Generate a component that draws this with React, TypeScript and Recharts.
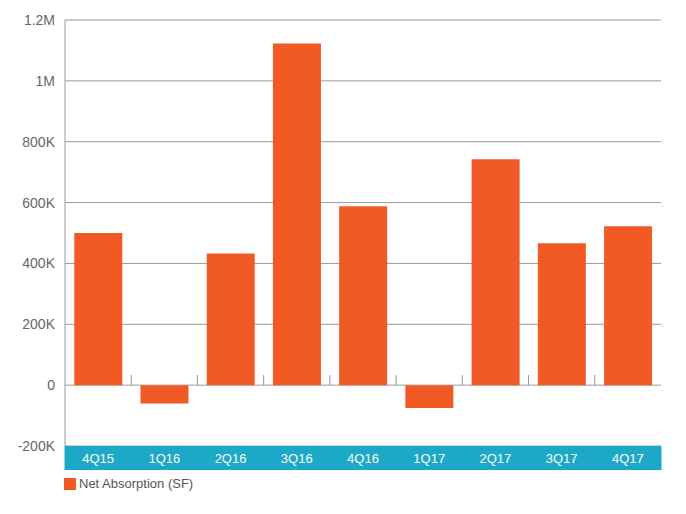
import React from 'react';
import { BarChart, Bar, XAxis, YAxis, CartesianGrid, ReferenceLine, Legend } from 'recharts';

const categories = ['4Q15', '1Q16', '2Q16', '3Q16', '4Q16', '1Q17', '2Q17', '3Q17', '4Q17'];
const netAbsorption = [500000, -60000, 433000, 1123000, 588000, -75000, 742000, 466000, 522000];
const yTicks = [-200000, 0, 200000, 400000, 600000, 800000, 1000000, 1200000];

const data = categories.map((c, i) => ({ cat: c, value: netAbsorption[i] }));

const BAR = '#F15A24';
const TEAL = '#1CA8C7';
const FONT = '"Liberation Sans", Arial, Helvetica, sans-serif';
const CHART_W = 686;
const CHART_H = 514;
const MARGIN = { top: 20, right: 25, left: 0, bottom: 28 };
const Y_W = 65;
const X_H = 24;
const BAND_W = (CHART_W - MARGIN.right - MARGIN.left - Y_W) / categories.length;

const fmt = (v: number) => {
  if (v === 0) return '0';
  const a = Math.abs(v);
  const s = v < 0 ? '-' : '';
  if (a >= 1000000) return s + a / 1000000 + 'M';
  return s + a / 1000 + 'K';
};

const BandTick = (props: any) => {
  const { x, y, payload } = props;
  return (
    <g>
      <rect x={x - BAND_W / 2 - 0.5} y={y} width={BAND_W + 1} height={X_H} fill={TEAL} />
      <text x={x} y={y + X_H / 2} dy={4.5} textAnchor="middle" fill="#ffffff" fontSize={13} fontFamily={FONT}>
        {payload.value}
      </text>
    </g>
  );
};

const LegendContent = () => (
  <div style={{ display: 'flex', alignItems: 'center', fontFamily: FONT, fontSize: 13, color: '#555', lineHeight: '16px' }}>
    <span style={{ display: 'inline-block', width: 12, height: 12, background: BAR, marginRight: 3 }} />
    <span>Net Absorption (SF)</span>
  </div>
);

export default function App() {
  return (
    <div style={{ position: 'absolute', left: 0, top: 0, width: CHART_W, height: CHART_H, background: '#fff' }}>
      <BarChart width={CHART_W} height={CHART_H} data={data} margin={MARGIN} barCategoryGap="14%">
        <CartesianGrid vertical={false} stroke="#9a9a9a" />
        <XAxis
          dataKey="cat"
          height={X_H}
          axisLine={false}
          tickLine={false}
          tickSize={0}
          tickMargin={0}
          interval={0}
          tick={<BandTick />}
        />
        <YAxis
          width={Y_W}
          domain={[-200000, 1200000]}
          ticks={yTicks}
          tickFormatter={fmt}
          axisLine={{ stroke: '#9a9a9a' }}
          tickLine={false}
          tickSize={0}
          tickMargin={10}
          tick={{ fill: '#666', fontSize: 14, fontFamily: FONT }}
          interval={0}
        />
        <YAxis yAxisId="r" orientation="right" width={0} tick={false} tickLine={false} axisLine={{ stroke: '#bbbbbb', strokeWidth: 2 }} />
        {categories.slice(1).map((c) => (
          <ReferenceLine
            key={c}
            position="start"
            segment={[{ x: c, y: 0 }, { x: c, y: 33000 }]}
            stroke="#8a98a3"
          />
        ))}
        <Bar dataKey="value" fill={BAR} isAnimationActive={false} />
        <Legend verticalAlign="bottom" align="left" content={<LegendContent />} wrapperStyle={{ left: 64, bottom: 22 }} />
      </BarChart>
    </div>
  );
}
